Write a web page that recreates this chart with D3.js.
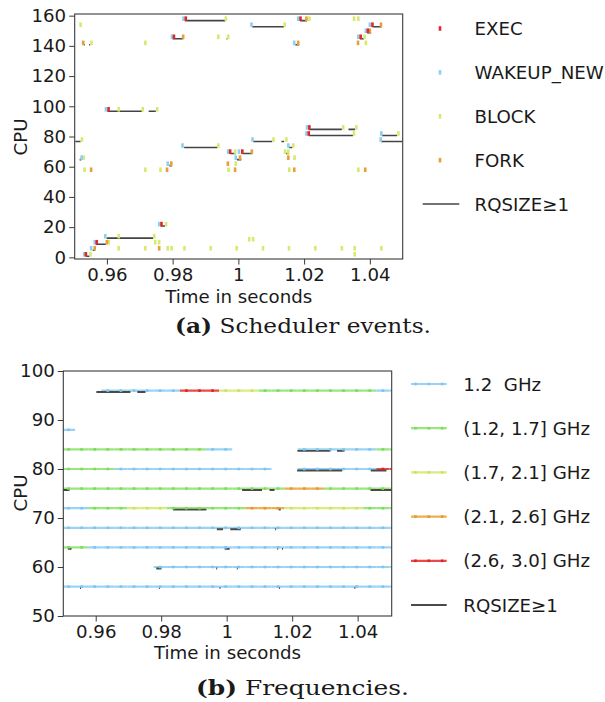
<!DOCTYPE html>
<html><head><meta charset="utf-8">
<script src="https://cdn.jsdelivr.net/npm/d3@7"></script>
<style>
body{margin:0;background:#fff;}
svg{display:block;font-family:"DejaVu Sans",sans-serif;}
</style></head>
<body>
<svg id="c" width="605" height="702"></svg>
<script>
// ---------- DATA: (a) scheduler events [time (s), CPU] ----------
const execEvents = [[0.9804,146],[0.9840,158],[0.9605,98],[1.0189,158],[1.0408,154],[1.0394,150],[1.0372,146],[1.0216,86],[1.0214,82],[0.9975,70],[1.0012,70],[0.9766,22],[0.9569,10],[0.9536,2]];
const wakeupEvents = [[0.9798,146],[0.9833,158],[0.9597,98],[0.9830,74],[1.0040,154],[1.0182,158],[1.0170,142],[1.0400,154],[1.0388,150],[1.0365,146],[1.0209,86],[1.0207,82],[1.0435,82],[1.0433,78],[1.0043,78],[1.0152,74],[0.9969,70],[1.0002,70],[0.9992,66],[0.9785,62],[0.9523,66],[0.9759,22],[0.9595,14],[0.9563,10],[0.9552,6],[0.9531,2]];
const blockEvents = [[0.9520,154],[0.9553,142],[0.9717,142],[0.9962,158],[0.9636,98],[0.9709,98],[0.9753,98],[0.9524,78],[0.9939,74],[1.0141,154],[0.9939,146],[0.9969,146],[1.0216,158],[1.0352,158],[1.0365,158],[1.0384,146],[1.0388,142],[1.0319,86],[1.0359,86],[1.0352,82],[1.0487,82],[1.0107,78],[1.0146,78],[1.0167,74],[0.9990,70],[1.0142,70],[1.0152,70],[1.0171,66],[0.9992,62],[0.9970,58],[1.0155,58],[1.0365,58],[0.9529,66],[0.9532,58],[0.9717,58],[0.9763,58],[0.9780,22],[0.9636,14],[0.9744,14],[0.9606,10],[0.9747,10],[0.9759,10],[0.9636,6],[0.9717,6],[0.9785,6],[0.9797,6],[0.9836,6],[0.9550,2],[0.9916,6],[0.9995,6],[1.0075,6],[1.0154,6],[1.0234,6],[1.0315,6],[1.0354,6],[1.0435,6],[1.0354,2],[1.0033,12],[1.0045,12]];
const forkEvents = [[0.9528,142],[0.9832,146],[1.0207,158],[1.0182,142],[1.0434,154],[1.0400,150],[1.0364,142],[1.0041,70],[1.0005,66],[0.9968,62],[0.9990,58],[1.0170,58],[1.0386,58],[1.0152,66],[0.9552,58],[0.9783,58],[0.9796,62],[0.9600,10],[0.9563,6],[0.9759,6]];
// RQSIZE>=1 intervals [CPU, start, end]
const rqTop = [[158,0.9838,0.9960],[146,0.9800,0.9832],[98,0.9602,0.9707],[98,0.9727,0.9749],[78,0.9504,0.9520],[74,0.9835,0.9937],[154,1.0042,1.0139],[158,1.0188,1.0209],[142,1.0173,1.0185],[154,1.0408,1.0436],[150,1.0392,1.0404],[146,1.0370,1.0382],[86,1.0215,1.0315],[86,1.0335,1.0355],[82,1.0214,1.0349],[82,1.0437,1.0483],[78,1.0434,1.0500],[78,1.0045,1.0103],[78,1.0131,1.0139],[74,1.0154,1.0164],[70,0.9975,0.9993],[70,1.0013,1.0043],[66,0.9996,1.0009],[70,1.0145,1.0154],[62,0.9790,0.9798],[22,0.9764,0.9777],[14,0.9599,0.9741],[10,0.9567,0.9597],[6,0.9557,0.9563],[2,0.9537,0.9547],[66,0.9517,0.9522],[142,0.9530,0.9533],[142,0.9546,0.9549],[146,0.9964,0.9967]];

// ---------- DATA: (b) frequencies ----------
const sampleTimes = [0.9517,0.9557,0.9597,0.9637,0.9677,0.9717,0.9757,0.9797,0.9837,0.9877,0.9917,0.9957,0.9997,1.0037,1.0077,1.0117,1.0157,1.0197,1.0237,1.0277,1.0317,1.0357,1.0397,1.0437,1.0477,1.0517];
const freqCpus = [96,88,84,80,76,72,68,64,60,56];
// frequency bucket per sample: 0=1.2, 1=(1.2,1.7], 2=(1.7,2.1], 3=(2.1,2.6], 4=(2.6,3.0], null=no sample
const N = null;
const freqBuckets = [
  [N,N,N,0,0,0,0,0,0,4,4,4,2,2,2,1,1,1,1,1,1,1,1,1,0,0],
  [0,N,N,N,N,N,N,N,N,N,N,N,N,N,N,N,N,N,N,N,N,N,N,N,N,N],
  [1,1,1,1,1,1,1,1,1,1,1,0,0,N,N,N,N,N,0,0,0,0,0,0,1,1],
  [1,1,1,1,0,0,0,0,0,0,0,0,0,0,0,0,N,N,0,0,0,0,0,0,4,4],
  [1,1,1,1,1,1,1,1,1,1,1,1,1,1,1,1,1,3,3,3,1,1,1,1,1,1],
  [0,0,1,1,1,2,2,2,1,1,1,1,1,1,3,3,3,2,2,2,2,2,2,1,1,1],
  [0,0,0,0,0,0,0,0,0,0,0,0,0,0,0,0,0,0,0,0,0,0,0,0,0,0],
  [1,1,0,0,0,0,0,0,0,0,0,0,0,0,0,0,0,0,0,0,0,0,0,0,0,0],
  [N,N,N,N,N,N,N,0,0,0,0,0,0,0,0,0,0,0,0,0,0,0,0,0,0,0],
  [0,0,0,0,0,0,0,0,0,0,0,0,0,0,0,0,0,0,0,0,0,0,0,0,0,0]
];
const freqLabels = ["1.2  GHz","(1.2, 1.7] GHz","(1.7, 2.1] GHz","(2.1, 2.6] GHz","(2.6, 3.0] GHz"];
const rqBottom = [[96,0.9602,0.9706],[96,0.9727,0.9752],[84,1.0216,1.0317],[84,1.0337,1.0360],[80,1.0215,1.0353],[80,1.0440,1.0488],[76,0.9500,0.9520],[76,1.0047,1.0108],[76,1.0131,1.0146],[76,1.0439,1.0504],[72,0.9836,0.9938],[72,1.0159,1.0165],[68,0.9970,0.9989],[68,1.0011,1.0043],[68,1.0148,1.0151],[64,0.9515,0.9526],[64,0.9994,1.0009],[64,1.0154,1.0157],[64,1.0169,1.0172],[60,0.9785,0.9801],[60,0.9968,0.9971],[60,1.0031,1.0034],[56,0.9552,0.9555],[56,0.9793,0.9796],[56,0.9978,0.9981],[56,1.0160,1.0163],[56,1.0390,1.0393]];

const xTicks = [0.96,0.98,1,1.02,1.04];
const xTickLabels = ["0.96","0.98","1","1.02","1.04"];
const yTicksTop = [0,20,40,60,80,100,120,140,160];
const yTicksBottom = [50,60,70,80,90,100];
const eventNames = ["EXEC","WAKEUP_NEW","BLOCK","FORK"];

// ---------- STYLE ----------
const eventColors = ["#e3262b","#8fcff3","#d6ea6e","#e8a036"];
const freqLine = ["#98d3f4","#98e67c","#d8ec80","#ebae52","#e84a4a"];
const freqMark = ["#7ec6f0","#7ddc5c","#cde261","#e69a2c","#e02424"];
const FS = 18.2;

const svg = d3.select("#c");

function axes(g, x, y, yTicks, yFmt, yLabelY, xLabelY) {
  const [x0,x1] = x.range(), [y0,y1] = y.range();
  g.append("rect").attr("x",x0).attr("y",y1).attr("width",x1-x0).attr("height",y0-y1)
    .attr("fill","none").attr("stroke","#3a3a3a").attr("stroke-width",1.1);
  const xa = d3.axisBottom(x).tickValues(xTicks).tickFormat((d,i)=>xTickLabels[i]).tickSize(5.5).tickPadding(4);
  const gx = g.append("g").attr("transform",`translate(0,${y0})`).call(xa);
  gx.select(".domain").remove();
  gx.selectAll("line").attr("stroke","#3a3a3a");
  gx.selectAll("text").attr("font-size",FS).attr("fill","#1a1a1a").attr("font-family","DejaVu Sans");
  const ya = d3.axisLeft(y).tickValues(yTicks).tickFormat(yFmt).tickSize(5.5).tickPadding(3);
  const gy = g.append("g").attr("transform",`translate(${x0},0)`).call(ya);
  gy.select(".domain").remove();
  gy.selectAll("line").attr("stroke","#3a3a3a");
  gy.selectAll("text").attr("font-size",FS).attr("fill","#1a1a1a").attr("font-family","DejaVu Sans");
  g.append("text").attr("x",(x0+x1)/2).attr("y",xLabelY).attr("text-anchor","middle")
    .attr("font-size",FS).attr("fill","#1a1a1a").text("Time in seconds");
  g.append("text").attr("transform",`translate(27,${yLabelY}) rotate(-90)`).attr("text-anchor","middle")
    .attr("font-size",FS).attr("fill","#1a1a1a").text("CPU");
}

// ---------- (a) ----------
const xA = d3.scaleLinear().domain([0.9502,1.05]).range([74.7,402.7]);
const yA = d3.scaleLinear().domain([-1.1,161.1]).range([259,14]);
const gA = svg.append("g");
svg.append("clipPath").attr("id","clipA").append("rect")
  .attr("x",74.7).attr("y",14).attr("width",328).attr("height",245);
const pA = gA.append("g").attr("clip-path","url(#clipA)");
pA.selectAll("line.rq").data(rqTop).join("line").attr("class","rq")
  .attr("x1",d=>xA(d[1])).attr("x2",d=>xA(d[2]))
  .attr("y1",d=>yA(d[0]-1.3)).attr("y2",d=>yA(d[0]-1.3))
  .attr("stroke","#444").attr("stroke-width",1.6);
const evSets = [blockEvents, forkEvents, wakeupEvents, execEvents];
const evColIdx = [2,3,1,0];
evSets.forEach((set,si)=>{
  pA.selectAll(null).data(set).join("rect")
    .attr("x",d=>xA(d[0])-1.3).attr("y",d=>yA(d[1])-2.3)
    .attr("width",2.6).attr("height",4.6)
    .attr("fill",eventColors[evColIdx[si]]);
});
axes(gA, xA, yA, yTicksTop, d=>String(d), 137, 303);

// legend (a)
const lgA = svg.append("g");
eventNames.forEach((n,i)=>{
  const yy = 28.5 + i*43.9;
  lgA.append("rect").attr("x",438.7).attr("y",yy-2.3).attr("width",2.6).attr("height",4.6).attr("fill",eventColors[i]);
  lgA.append("text").attr("x",474.5).attr("y",yy).attr("dy","0.36em").attr("font-size",FS).attr("fill","#1a1a1a").text(n);
});
lgA.append("line").attr("x1",422.7).attr("x2",459.3).attr("y1",204).attr("y2",204).attr("stroke","#444").attr("stroke-width",1.6);
lgA.append("text").attr("x",474.5).attr("y",204).attr("dy","0.36em").attr("font-size",FS).attr("fill","#1a1a1a").text("RQSIZE≥1");

// caption (a)
svg.append("text").attr("x",303).attr("y",333).attr("text-anchor","middle")
  .attr("font-family","DejaVu Serif").attr("font-size",20).attr("fill","#1a1a1a")
  .attr("textLength",256).attr("lengthAdjust","spacingAndGlyphs")
  .html('<tspan font-weight="bold">(a)</tspan> Scheduler events.');

// ---------- (b) ----------
const xB = d3.scaleLinear().domain([0.9501,1.0504]).range([63.3,391.7]);
const yB = d3.scaleLinear().domain([50,100]).range([616,371]);
const gB = svg.append("g");
svg.append("clipPath").attr("id","clipB").append("rect")
  .attr("x",63.3).attr("y",371).attr("width",328.4).attr("height",245);
const pB = gB.append("g").attr("clip-path","url(#clipB)");
const HALF = 0.002;
const samples = [];
freqCpus.forEach((cpu,r)=>{
  freqBuckets[r].forEach((b,k)=>{ if(b!==null) samples.push({cpu, t:sampleTimes[k], b}); });
});
pB.selectAll("line.seg").data(samples).join("line").attr("class","seg")
  .attr("x1",d=>xB(d.t-HALF)).attr("x2",d=>xB(d.t+HALF))
  .attr("y1",d=>yB(d.cpu)).attr("y2",d=>yB(d.cpu))
  .attr("stroke",d=>freqLine[d.b]).attr("stroke-width",2.2);
pB.selectAll("line.rq").data(rqBottom).join("line").attr("class","rq")
  .attr("x1",d=>xB(d[1])).attr("x2",d=>xB(d[2]))
  .attr("y1",d=>yB(d[0]-0.3)).attr("y2",d=>yB(d[0]-0.3))
  .attr("stroke","#4a4a4a").attr("stroke-width",1.9);
pB.selectAll("rect.mk").data(samples).join("rect").attr("class","mk")
  .attr("x",d=>xB(d.t)-1.3).attr("y",d=>yB(d.cpu)-1.3).attr("width",2.6).attr("height",2.6)
  .attr("fill",d=>freqMark[d.b]);
axes(gB, xB, yB, yTicksBottom, d=>String(d), 493, 659);

// legend (b)
const lgB = svg.append("g");
freqLabels.forEach((n,i)=>{
  const yy = 384 + i*44.2;
  lgB.append("line").attr("x1",411).attr("x2",446.7).attr("y1",yy).attr("y2",yy).attr("stroke",freqLine[i]).attr("stroke-width",2.2);
  [415.5,428.8,442.2].forEach(mx=>lgB.append("rect").attr("x",mx-1.3).attr("y",yy-1.3).attr("width",2.6).attr("height",2.6).attr("fill",freqMark[i]));
  lgB.append("text").attr("x",463.3).attr("y",yy).attr("dy","0.36em").attr("font-size",FS).attr("fill","#1a1a1a").style("white-space","pre").text(n);
});
lgB.append("line").attr("x1",411).attr("x2",446.7).attr("y1",605).attr("y2",605).attr("stroke","#4a4a4a").attr("stroke-width",1.9);
lgB.append("text").attr("x",463.3).attr("y",605).attr("dy","0.36em").attr("font-size",FS).attr("fill","#1a1a1a").text("RQSIZE≥1");

svg.append("text").attr("x",302.5).attr("y",695).attr("text-anchor","middle")
  .attr("font-family","DejaVu Serif").attr("font-size",20).attr("fill","#1a1a1a")
  .attr("textLength",213).attr("lengthAdjust","spacingAndGlyphs")
  .html('<tspan font-weight="bold">(b)</tspan> Frequencies.');
</script>
</body></html>
